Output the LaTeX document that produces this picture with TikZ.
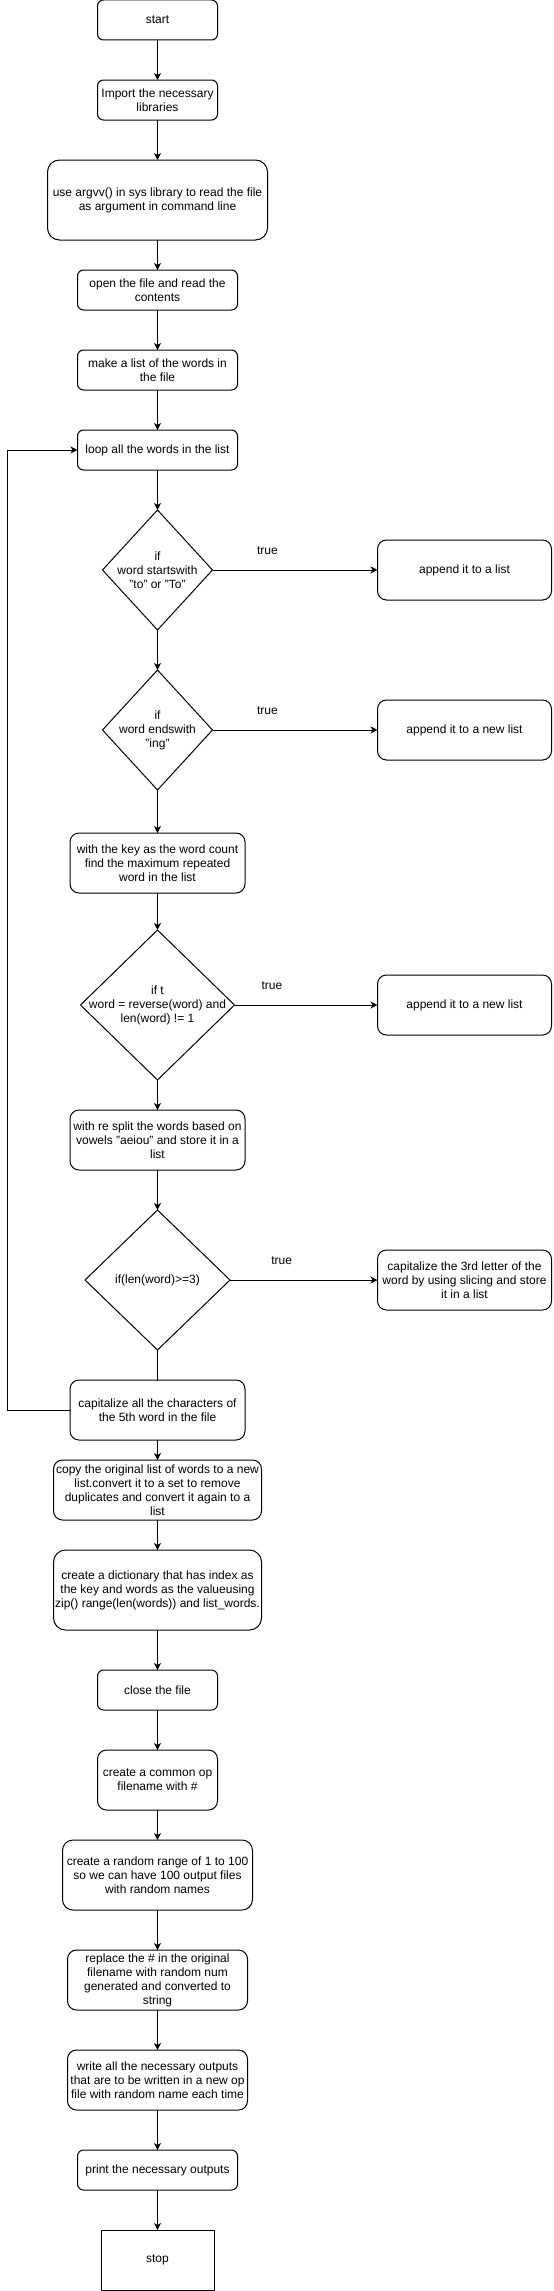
\documentclass[tikz,border=0pt]{standalone}
\usepackage{fontspec}
\setmainfont{Liberation Sans}
\usepackage{tikz}
\usetikzlibrary{positioning,shapes,arrows,arrows.meta}

\begin{document}
\begin{tikzpicture}[x=1pt,y=-1pt,line width=1pt,
    font=\fontsize{12}{14}\selectfont,
    >={Stealth[length=7pt,width=7pt,inset=2pt]},
    proc/.style={draw,rounded corners=6pt,align=center,inner sep=1pt,outer sep=0pt,minimum height=40pt},
    dec/.style={draw,diamond,inner sep=0pt,outer sep=0pt},
    side/.style={proc,rounded corners=9pt,minimum width=174pt,minimum height=60pt}]
\useasboundingbox (0,0) rectangle (554,2291);
\draw node[proc,minimum width=120pt] (b1) at (157.5,20) {start} ;
\draw node[proc,minimum width=120pt,below=40pt of b1] (b2) {Import the necessary\\libraries} ;
\draw node[proc,minimum width=220pt,minimum height=80pt,rounded corners=12pt,below=40pt of b2] (b3)
     {use argvv() in sys library to read the file\\as argument in command line} ;
\draw node[proc,minimum width=160pt,below=30pt of b3] (b4) {open the file and read the\\contents} ;
\draw node[proc,minimum width=160pt,below=40pt of b4] (b5) {make a list of the words in\\the file} ;
\draw node[proc,minimum width=160pt,below=40pt of b5] (b6) {loop all the words in the list} ;
\draw node[dec,minimum width=110pt,minimum height=120pt,below=40pt of b6,
     label={[align=center]center:{if\\word startswith\\"to" or "To"}}] (d1) {} ;
\draw node[side,right=165pt of d1] (r1) {append it to a list} ;
\draw node[dec,minimum width=110pt,minimum height=120pt,below=40pt of d1,
     label={[align=center]center:{if\\word endswith\\"ing"}}] (d2) {} ;
\draw node[side,right=165pt of d2] (r2) {append it to a new list} ;
\draw node[proc,minimum width=175pt,minimum height=60pt,rounded corners=9pt,below=43pt of d2] (b7)
     {with the key as the word count\\find the maximum repeated\\word in the list} ;
\draw node[dec,minimum width=154pt,minimum height=150pt,below=37pt of b7,
     label={[align=center]center:{if t\\word = reverse(word) and\\len(word) != 1}}] (d3) {} ;
\draw node[side,right=143pt of d3] (r3) {append it to a new list} ;
\draw node[proc,minimum width=175pt,minimum height=60pt,rounded corners=9pt,below=30pt of d3] (b8)
     {with re split the words based on\\vowels "aeiou" and store it in a\\list} ;
\draw node[dec,minimum width=145pt,minimum height=140pt,below=40pt of b8,
     label={[align=center]center:{if(len(word)>=3)}}] (d4) {} ;
\draw node[side,right=147.5pt of d4] (r4)
     {capitalize the 3rd letter of the\\word by using slicing and store\\it in a list} ;
\draw node[proc,minimum width=175pt,minimum height=60pt,rounded corners=9pt,below=30pt of d4] (b9)
     {capitalize all the characters of\\the 5th word in the file} ;
\draw node[proc,minimum width=208pt,minimum height=60pt,rounded corners=9pt,below=20pt of b9] (b10)
     {copy the original list of words to a new\\list.convert it to a set to remove\\duplicates and convert it again to a\\list} ;
\draw node[proc,minimum width=208pt,minimum height=80pt,rounded corners=12pt,below=30pt of b10] (b11)
     {create a dictionary that has index as\\the key and words as the valueusing\\zip() range(len(words)) and list\_words.} ;
\draw node[proc,minimum width=120pt,below=40pt of b11] (b12) {close the file} ;
\draw node[proc,minimum width=120pt,minimum height=60pt,rounded corners=9pt,below=40pt of b12] (b13)
     {create a common op\\filename with \#} ;
\draw node[proc,minimum width=190pt,minimum height=70pt,rounded corners=10.5pt,below=30pt of b13] (b14)
     {create a random range of 1 to 100\\so we can have 100 output files\\with random names} ;
\draw node[proc,minimum width=180pt,minimum height=60pt,rounded corners=9pt,below=40pt of b14] (b15)
     {replace the \# in the original\\filename with random num\\generated and converted to\\string} ;
\draw node[proc,minimum width=180pt,minimum height=60pt,rounded corners=9pt,below=40pt of b15] (b16)
     {write all the necessary outputs\\that are to be written in a new op\\file with random name each time} ;
\draw node[proc,minimum width=160pt,below=40pt of b16] (b17) {print the necessary outputs} ;
\draw node[proc,rounded corners=0pt,minimum width=113pt,minimum height=60pt,below=40pt of b17] (b18) {stop} ;
\draw[->] (b1) to (b2) ;
\draw[->] (b2) to (b3) ;
\draw[->] (b3) to (b4) ;
\draw[->] (b4) to (b5) ;
\draw[->] (b5) to (b6) ;
\draw[->] (b6) to (d1) ;
\draw[->] (d1) to node[pos=.333,yshift=19pt] (t1) {true} (r1) ;
\draw[->] (d1) to (d2) ;
\draw[->] (d2) to node[pos=.333,yshift=19pt] (t2) {true} (r2) ;
\draw[->] (d2) to (b7) ;
\draw[->] (b7) to (d3) ;
\draw[->] (d3) to node[pos=.262,yshift=19pt] (t3) {true} (r3) ;
\draw[->] (d3) to (b8) ;
\draw[->] (b8) to (d4) ;
\draw[->] (d4) to node[pos=.35,yshift=19pt] (t4) {true} (r4) ;
\draw (d4) to (b9) ;
\draw[->] (b9.west) -- ++(-63,0) |- (b6.west) ;
\draw[->] (b9) to (b10) ;
\draw[->] (b10) to (b11) ;
\draw[->] (b11) to (b12) ;
\draw[->] (b12) to (b13) ;
\draw[->] (b13) to (b14) ;
\draw[->] (b14) to (b15) ;
\draw[->] (b15) to (b16) ;
\draw[->] (b16) to (b17) ;
\draw[->] (b17) to (b18) ;
\end{tikzpicture}
\end{document}
